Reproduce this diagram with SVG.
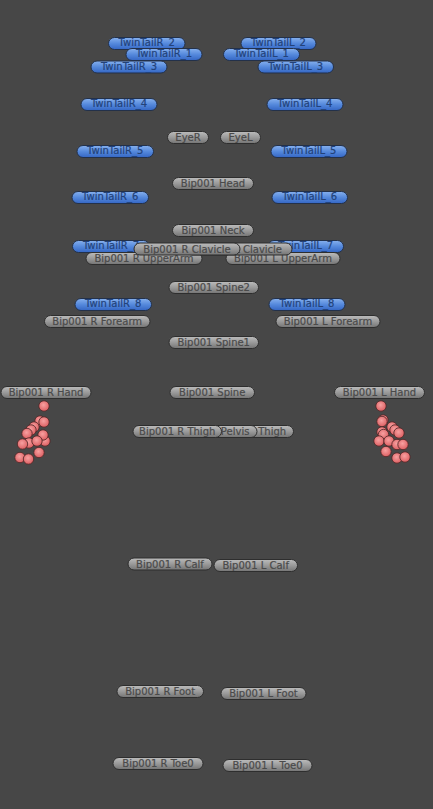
<svg xmlns="http://www.w3.org/2000/svg" width="433" height="809" viewBox="0 0 433 809">
<defs>
<linearGradient id="gGray" x1="0" y1="0" x2="0" y2="1">
<stop offset="0" stop-color="#bcbcbc"/>
<stop offset="0.5" stop-color="#9a9a9a"/>
<stop offset="1" stop-color="#747474"/>
</linearGradient>
<linearGradient id="gBlue" x1="0" y1="0" x2="0" y2="1">
<stop offset="0" stop-color="#86b0ee"/>
<stop offset="0.5" stop-color="#5589dc"/>
<stop offset="1" stop-color="#3466c4"/>
</linearGradient>
<radialGradient id="gRed" cx="0.45" cy="0.4" r="0.6">
<stop offset="0" stop-color="#f7a0a0"/>
<stop offset="1" stop-color="#dc5f62"/>
</radialGradient>
<style>
.g rect{fill:url(#gGray);stroke:#2e2e2e;stroke-width:1}
.b rect{fill:url(#gBlue);stroke:#23314a;stroke-width:1}
text{font-family:"DejaVu Sans","Liberation Sans",sans-serif;font-size:10px;text-anchor:middle;stroke-width:0.2px}
.g text{fill:#4a4a4a;stroke:#4a4a4a}
.b text{fill:#22427a;stroke:#22427a}
.c circle{fill:url(#gRed);stroke:#4a2424;stroke-width:0.8}
</style>
</defs>
<rect width="433" height="809" fill="#474747"/>
<g id="connectors"/>
<g id="TwinTailR_2" class="b"><rect x="108.5" y="37.5" width="76.5" height="12" rx="6"/><text x="146.7" y="46.4">TwinTailR_2</text></g>
<g id="TwinTailL_2" class="b"><rect x="241" y="37.5" width="75" height="12" rx="6"/><text x="278.5" y="46.4">TwinTailL_2</text></g>
<g id="TwinTailR_1" class="b"><rect x="126" y="48.5" width="76" height="12" rx="6"/><text x="164" y="57.4">TwinTailR_1</text></g>
<g id="TwinTailL_1" class="b"><rect x="223.5" y="48.5" width="76" height="12" rx="6"/><text x="261.5" y="57.4">TwinTailL_1</text></g>
<g id="TwinTailR_3" class="b"><rect x="91" y="61" width="76" height="12" rx="6"/><text x="129" y="69.9">TwinTailR_3</text></g>
<g id="TwinTailL_3" class="b"><rect x="258" y="61" width="75.5" height="12" rx="6"/><text x="295.7" y="69.9">TwinTailL_3</text></g>
<g id="TwinTailR_4" class="b"><rect x="81" y="98.5" width="76" height="12" rx="6"/><text x="119" y="107.4">TwinTailR_4</text></g>
<g id="TwinTailL_4" class="b"><rect x="267" y="98.5" width="76" height="12" rx="6"/><text x="305" y="107.4">TwinTailL_4</text></g>
<g id="TwinTailR_5" class="b"><rect x="77" y="145.5" width="76.5" height="12" rx="6"/><text x="115.2" y="154.4">TwinTailR_5</text></g>
<g id="TwinTailL_5" class="b"><rect x="271" y="145.5" width="76" height="12" rx="6"/><text x="309" y="154.4">TwinTailL_5</text></g>
<g id="TwinTailR_6" class="b"><rect x="72" y="191.5" width="76.5" height="12" rx="6"/><text x="110.2" y="200.4">TwinTailR_6</text></g>
<g id="TwinTailL_6" class="b"><rect x="272" y="191.5" width="75.5" height="12" rx="6"/><text x="309.7" y="200.4">TwinTailL_6</text></g>
<g id="TwinTailR_7" class="b"><rect x="72.5" y="240.5" width="77" height="12" rx="6"/><text x="111" y="249.4">TwinTailR_7</text></g>
<g id="TwinTailL_7" class="b"><rect x="268" y="240.5" width="75.5" height="12" rx="6"/><text x="305.7" y="249.4">TwinTailL_7</text></g>
<g id="TwinTailR_8" class="b"><rect x="75" y="298.5" width="76.5" height="12" rx="6"/><text x="113.2" y="307.4">TwinTailR_8</text></g>
<g id="TwinTailL_8" class="b"><rect x="269" y="298.5" width="76" height="12" rx="6"/><text x="307" y="307.4">TwinTailL_8</text></g>
<g id="EyeR" class="g"><rect x="167.5" y="131.5" width="41" height="12" rx="6"/><text x="188" y="141.2">EyeR</text></g>
<g id="EyeL" class="g"><rect x="220.5" y="131.5" width="40" height="12" rx="6"/><text x="240.5" y="141.2">EyeL</text></g>
<g id="Head" class="g"><rect x="172.5" y="177.5" width="81" height="12" rx="6"/><text x="213" y="187.2">Bip001 Head</text></g>
<g id="Neck" class="g"><rect x="172.5" y="224.5" width="81" height="12" rx="6"/><text x="213" y="234.2">Bip001 Neck</text></g>
<g id="L_UpperArm" class="g"><rect x="226" y="252.5" width="114" height="12" rx="6"/><text x="283" y="262.2">Bip001 L UpperArm</text></g>
<g id="R_UpperArm" class="g"><rect x="86" y="252.5" width="116" height="12" rx="6"/><text x="144" y="262.2">Bip001 R UpperArm</text></g>
<g id="L_Clavicle" class="g"><rect x="186" y="243" width="106" height="12" rx="6"/><text x="239" y="252.7">Bip001 L Clavicle</text></g>
<g id="R_Clavicle" class="g"><rect x="134" y="243" width="106" height="12" rx="6"/><text x="187" y="252.7">Bip001 R Clavicle</text></g>
<g id="Spine2" class="g"><rect x="169" y="281.5" width="89.5" height="12" rx="6"/><text x="213.7" y="291.2">Bip001 Spine2</text></g>
<g id="R_Forearm" class="g"><rect x="44.5" y="315.5" width="105.5" height="12" rx="6"/><text x="97.2" y="325.2">Bip001 R Forearm</text></g>
<g id="L_Forearm" class="g"><rect x="276" y="315.5" width="104" height="12" rx="6"/><text x="328" y="325.2">Bip001 L Forearm</text></g>
<g id="Spine1" class="g"><rect x="169" y="336.5" width="89.5" height="12" rx="6"/><text x="213.7" y="346.2">Bip001 Spine1</text></g>
<g id="R_Hand" class="g"><rect x="1" y="386.5" width="90" height="12" rx="6"/><text x="46" y="396.2">Bip001 R Hand</text></g>
<g id="L_Hand" class="g"><rect x="334.5" y="386.5" width="90" height="12" rx="6"/><text x="379.5" y="396.2">Bip001 L Hand</text></g>
<g id="Spine" class="g"><rect x="170" y="386.5" width="84.5" height="12" rx="6"/><text x="212.2" y="396.2">Bip001 Spine</text></g>
<g id="L_Thigh" class="g"><rect x="204" y="425.5" width="89.5" height="12" rx="6"/><text x="248.7" y="435.2">Bip001 L Thigh</text></g>
<g id="Pelvis" class="g"><rect x="171" y="425.5" width="86" height="12" rx="6"/><text x="216" y="435.2">Bip001 Pelvis</text></g>
<g id="R_Thigh" class="g"><rect x="133" y="425.5" width="88.5" height="12" rx="6"/><text x="177.2" y="435.2">Bip001 R Thigh</text></g>
<g id="R_Calf" class="g"><rect x="128" y="558" width="84" height="12" rx="6"/><text x="170" y="567.7">Bip001 R Calf</text></g>
<g id="L_Calf" class="g"><rect x="214" y="559.5" width="83.5" height="12" rx="6"/><text x="255.7" y="569.2">Bip001 L Calf</text></g>
<g id="R_Foot" class="g"><rect x="117" y="685.5" width="86.5" height="12" rx="6"/><text x="160.2" y="695.2">Bip001 R Foot</text></g>
<g id="L_Foot" class="g"><rect x="221" y="687.5" width="85" height="12" rx="6"/><text x="263.5" y="697.2">Bip001 L Foot</text></g>
<g id="R_Toe0" class="g"><rect x="113" y="757.5" width="90" height="12" rx="6"/><text x="158" y="767.2">Bip001 R Toe0</text></g>
<g id="L_Toe0" class="g"><rect x="223" y="759.5" width="89" height="12" rx="6"/><text x="267.5" y="769.2">Bip001 L Toe0</text></g>
<g id="R_Fingers" class="c">
<circle cx="44" cy="406" r="5.2"/>
<circle cx="40" cy="421" r="5.2"/>
<circle cx="34" cy="427" r="5.2"/>
<circle cx="31" cy="430" r="5.2"/>
<circle cx="27" cy="433.5" r="5.2"/>
<circle cx="44" cy="422" r="5.2"/>
<circle cx="45" cy="441" r="5.2"/>
<circle cx="43" cy="435" r="5.2"/>
<circle cx="29" cy="443" r="5.2"/>
<circle cx="22.5" cy="444" r="5.2"/>
<circle cx="37" cy="441" r="5.2"/>
<circle cx="39" cy="452.5" r="5.2"/>
<circle cx="20" cy="457.5" r="5.2"/>
<circle cx="28.5" cy="459" r="5.2"/>
</g>
<g id="L_Fingers" class="c">
<circle cx="381" cy="406" r="5.2"/>
<circle cx="383" cy="420" r="5.2"/>
<circle cx="382" cy="421.5" r="5.2"/>
<circle cx="392" cy="427" r="5.2"/>
<circle cx="395" cy="430" r="5.2"/>
<circle cx="382" cy="432" r="5.2"/>
<circle cx="399" cy="433" r="5.2"/>
<circle cx="383.5" cy="434.5" r="5.2"/>
<circle cx="379" cy="441" r="5.2"/>
<circle cx="389" cy="441" r="5.2"/>
<circle cx="397" cy="444.5" r="5.2"/>
<circle cx="403" cy="444.5" r="5.2"/>
<circle cx="386" cy="451.5" r="5.2"/>
<circle cx="397" cy="458" r="5.2"/>
<circle cx="405" cy="457" r="5.2"/>
</g>
</svg>
